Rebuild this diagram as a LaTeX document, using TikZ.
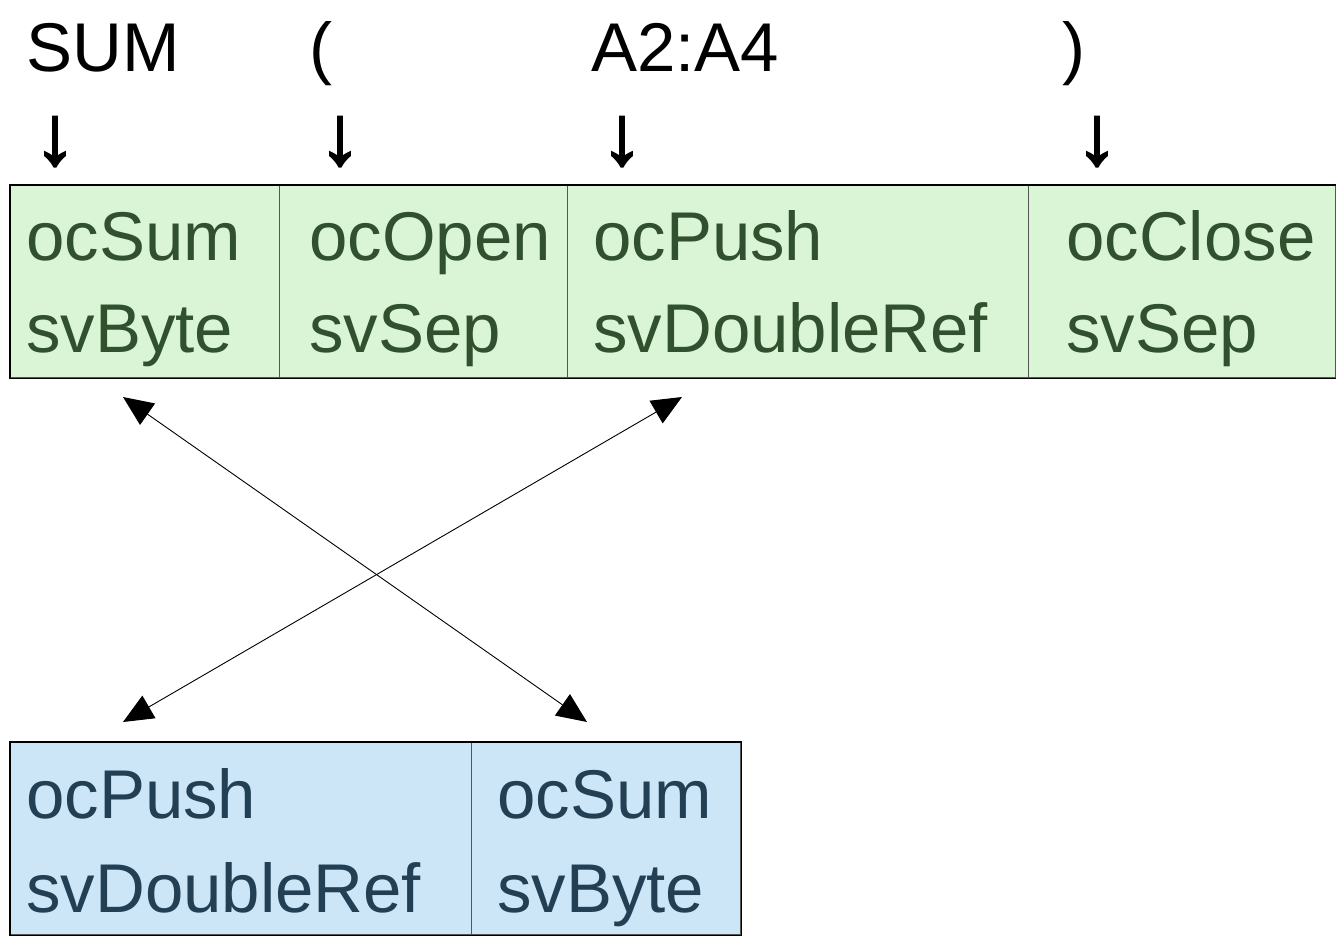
\documentclass[tikz,border=0pt]{standalone}
\usepackage{fontspec}
\setmainfont{Liberation Sans}
\newfontfamily\arrowfont[FakeBold=2.6]{Liberation Sans}
\usetikzlibrary{arrows.meta}
\definecolor{gfill}{HTML}{D9F5D6}
\definecolor{gtext}{HTML}{31502D}
\definecolor{bfill}{HTML}{CCE6F8}
\definecolor{btext}{HTML}{233F54}
\definecolor{divgray}{HTML}{555555}
\begin{document}
\begin{tikzpicture}[x=1pt,y=-1pt,
  cell/.style={draw=divgray, line width=1.2pt, inner sep=0pt, anchor=north west, minimum height=192pt},
  gcell/.style={cell, fill=gfill},
  bcell/.style={cell, fill=bfill},
  lbl/.style={inner sep=0pt, anchor=base west, font=\fontsize{69}{83}\selectfont},
  down/.style={inner sep=0pt, anchor=base, font=\fontsize{84}{96}\arrowfont},
  frame/.style={draw=black, line width=1.2pt},
  conn/.style={line width=0.9pt, {Triangle[length=30pt,width=26pt]}-{Triangle[length=30pt,width=26pt]}}]
\useasboundingbox (0,0) rectangle (1336,936);
% top tokens
\node[lbl] (tsum) at (26,72) {SUM};
\node[lbl] (topen) at (309,72) {(};
\node[lbl] (tref) at (591,72) {A2:A4};
\node[lbl] (tclose) at (1062,72) {)};
\node[down] (a1) at (55,164) {↓};
\node[down] (a2) at (340,164) {↓};
\node[down] (a3) at (622,164) {↓};
\node[down] (a4) at (1097,164) {↓};
% green cells
\node[gcell, minimum width=269pt] (g1) at (10,185) {};
\node[gcell, minimum width=288pt] (g2) at (279,185) {};
\node[gcell, minimum width=461pt] (g3) at (567,185) {};
\node[gcell, minimum width=307pt] (g4) at (1028,185) {};
\draw[frame] (g1.north west) rectangle (g4.south east);
\node[lbl, text=gtext] (g1a) at (26,260) {ocSum};
\node[lbl, text=gtext] (g1b) at (26,352) {svByte};
\node[lbl, text=gtext] (g2a) at (309,260) {ocOpen};
\node[lbl, text=gtext] (g2b) at (309,352) {svSep};
\node[lbl, text=gtext] (g3a) at (593,260) {ocPush};
\node[lbl, text=gtext] (g3b) at (593,352) {svDoubleRef};
\node[lbl, text=gtext] (g4a) at (1066,260) {ocClose};
\node[lbl, text=gtext] (g4b) at (1066,352) {svSep};
% blue cells
\node[bcell, minimum width=461pt] (b1) at (10,742) {};
\node[bcell, minimum width=269pt] (b2) at (471,742) {};
\draw[frame] (b1.north west) rectangle (b2.south east);
\node[lbl, text=btext] (b1a) at (26,818) {ocPush};
\node[lbl, text=btext] (b1b) at (26,912) {svDoubleRef};
\node[lbl, text=btext] (b2a) at (497,818) {ocSum};
\node[lbl, text=btext] (b2b) at (497,912) {svByte};
% connector ends
\coordinate (p1) at (123,397);
\coordinate (p2) at (587,722);
\coordinate (p3) at (682,397);
\coordinate (p4) at (123,722);
\draw[conn] (p1) -- (p2);
\draw[conn] (p3) -- (p4);
\end{tikzpicture}
\end{document}
